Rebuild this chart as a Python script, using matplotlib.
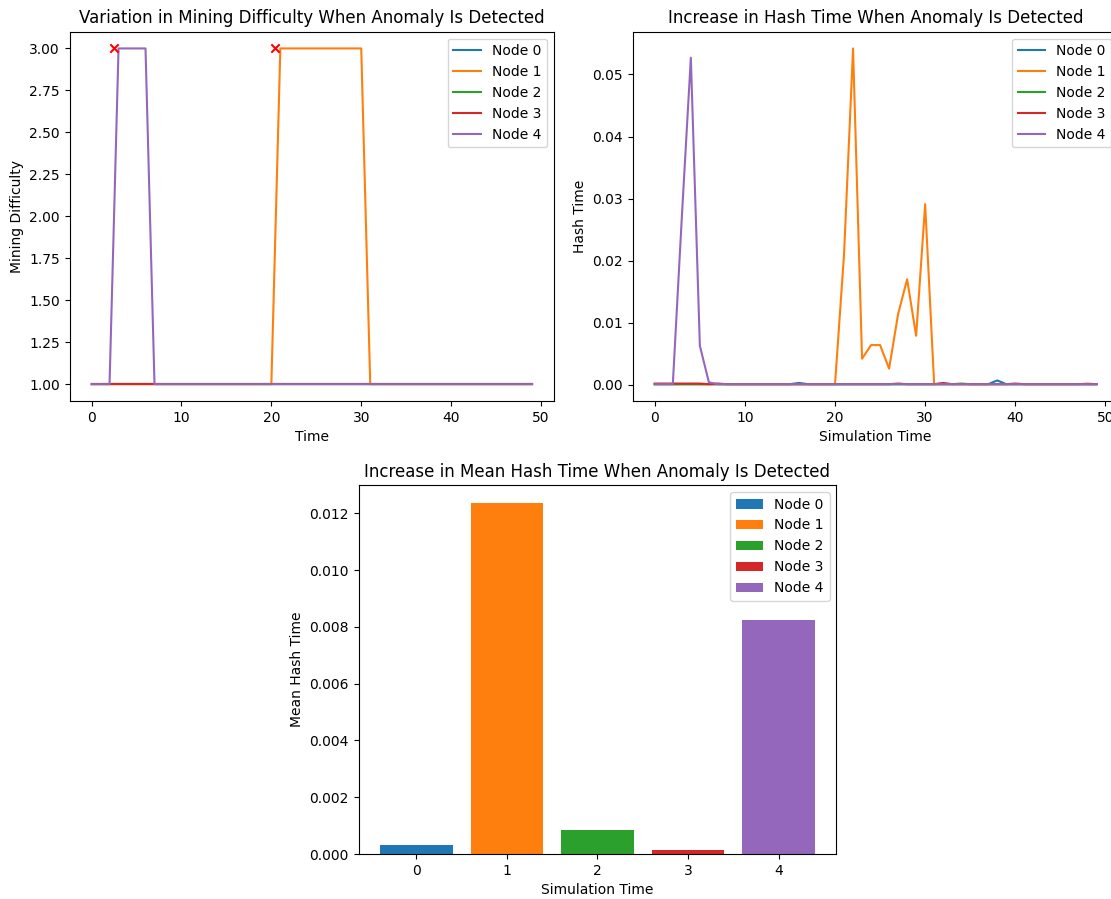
import matplotlib
matplotlib.use('Agg')
import matplotlib.pyplot as plt

# time steps 0..49
times = list(range(50))
nodes = ['Node 0', 'Node 1', 'Node 2', 'Node 3', 'Node 4']
colors = ['tab:blue', 'tab:orange', 'tab:green', 'tab:red', 'tab:purple']

# mining difficulty per node
difficulty = [
    [1] * 50,
    [1] * 21 + [3] * 10 + [1] * 19,
    [1] * 50,
    [1] * 50,
    [1] * 3 + [3] * 4 + [1] * 43,
]
# anomaly detection marks (time, difficulty)
anomaly_times = [2.5, 20.45]
anomaly_levels = [3, 3]

# hash time per node
hash_times = [
    [0.0001, 0.0001, 0.0001, 0.0001, 0.0001, 0.0001, 0.0001, 0.0001, 0.0001, 0.0001,
     0.0001, 0.0001, 0.0001, 0.0001, 0.0001, 0.0001, 0.0003, 0.0001, 0.0001, 0.0001,
     0.0001, 0.0001, 0.0001, 0.0001, 0.0001, 0.0001, 0.0001, 0.0001, 0.0001, 0.0001,
     0.0001, 0.0001, 0.0001, 0.0001, 0.0001, 0.0001, 0.0001, 0.0001, 0.0007, 0.0001,
     0.0001, 0.0001, 0.0001, 0.0001, 0.0001, 0.0001, 0.0001, 0.0001, 0.0001, 0.0001],
    [0.0001, 0.0001, 0.0001, 0.0001, 0.0001, 0.0001, 0.0001, 0.0001, 0.0001, 0.0001,
     0.0001, 0.0001, 0.0001, 0.0001, 0.0001, 0.0001, 0.0001, 0.0001, 0.0001, 0.0001,
     0.0001, 0.0210, 0.0542, 0.0042, 0.0064, 0.0064, 0.0026, 0.0114, 0.0170, 0.0079,
     0.0291, 0.0001, 0.0001, 0.0001, 0.0001, 0.0001, 0.0001, 0.0001, 0.0001, 0.0001,
     0.0001, 0.0001, 0.0001, 0.0001, 0.0001, 0.0001, 0.0001, 0.0001, 0.0002, 0.0001],
    [0.0001, 0.0001, 0.0001, 0.0001, 0.0001, 0.0001, 0.0001, 0.0001, 0.0001, 0.0001,
     0.0001, 0.0001, 0.0001, 0.0001, 0.0001, 0.0001, 0.0001, 0.0001, 0.0001, 0.0001,
     0.0001, 0.0001, 0.0001, 0.0001, 0.0001, 0.0001, 0.0001, 0.0001, 0.0001, 0.0001,
     0.0001, 0.0001, 0.0001, 0.0001, 0.0002, 0.0001, 0.0001, 0.0001, 0.0001, 0.0001,
     0.0001, 0.0001, 0.0001, 0.0001, 0.0001, 0.0001, 0.0001, 0.0001, 0.0001, 0.0001],
    [0.0002, 0.0002, 0.0002, 0.0002, 0.0002, 0.0002, 0.0001, 0.0002, 0.0001, 0.0001,
     0.0001, 0.0001, 0.0001, 0.0001, 0.0001, 0.0001, 0.0001, 0.0001, 0.0001, 0.0001,
     0.0001, 0.0001, 0.0001, 0.0001, 0.0001, 0.0001, 0.0001, 0.0002, 0.0001, 0.0001,
     0.0001, 0.0001, 0.0003, 0.0001, 0.0001, 0.0001, 0.0001, 0.0001, 0.0001, 0.0001,
     0.0002, 0.0001, 0.0001, 0.0001, 0.0001, 0.0001, 0.0001, 0.0001, 0.0001, 0.0001],
    [0.0001, 0.0001, 0.0001, 0.0270, 0.0527, 0.0063, 0.0004, 0.0001, 0.0001, 0.0001,
     0.0001, 0.0001, 0.0001, 0.0001, 0.0001, 0.0001, 0.0001, 0.0001, 0.0001, 0.0001,
     0.0001, 0.0001, 0.0001, 0.0001, 0.0001, 0.0001, 0.0001, 0.0001, 0.0001, 0.0001,
     0.0001, 0.0001, 0.0001, 0.0001, 0.0001, 0.0001, 0.0001, 0.0001, 0.0001, 0.0001,
     0.0001, 0.0001, 0.0001, 0.0001, 0.0001, 0.0001, 0.0001, 0.0001, 0.0001, 0.0001],
]

# mean hash time per node
node_ids = [0, 1, 2, 3, 4]
mean_hash = [0.00031, 0.01238, 0.00084, 0.00014, 0.00823]

fig = plt.figure(figsize=(11.11, 8.99), dpi=100)
ax1 = fig.add_axes([0.0626, 0.554, 0.4361, 0.4108])
ax2 = fig.add_axes([0.5695, 0.554, 0.4372, 0.4108])
ax3 = fig.add_axes([0.3227, 0.050, 0.4302, 0.4105])

#difficulty plot
for i in range(len(nodes)):
    ax1.plot(times, difficulty[i], color=colors[i], label=nodes[i])
ax1.scatter(anomaly_times, anomaly_levels, color='red', marker='x', zorder=5)
ax1.set_title('Variation in Mining Difficulty When Anomaly Is Detected')
ax1.set_xlabel('Time')
ax1.set_ylabel('Mining Difficulty')
ax1.legend(loc='upper right')

#hash time plot
for i in range(len(nodes)):
    ax2.plot(times, hash_times[i], color=colors[i], label=nodes[i])
ax2.set_title('Increase in Hash Time When Anomaly Is Detected')
ax2.set_xlabel('Simulation Time')
ax2.set_ylabel('Hash Time')
ax2.legend(loc='upper right')

#mean hash time bars
for i in node_ids:
    ax3.bar(i, mean_hash[i], color=colors[i], label=nodes[i])
ax3.set_title('Increase in Mean Hash Time When Anomaly Is Detected')
ax3.set_xlabel('Simulation Time')
ax3.set_ylabel('Mean Hash Time')
ax3.legend(loc='upper right')

plt.savefig('out.png', dpi=100)
